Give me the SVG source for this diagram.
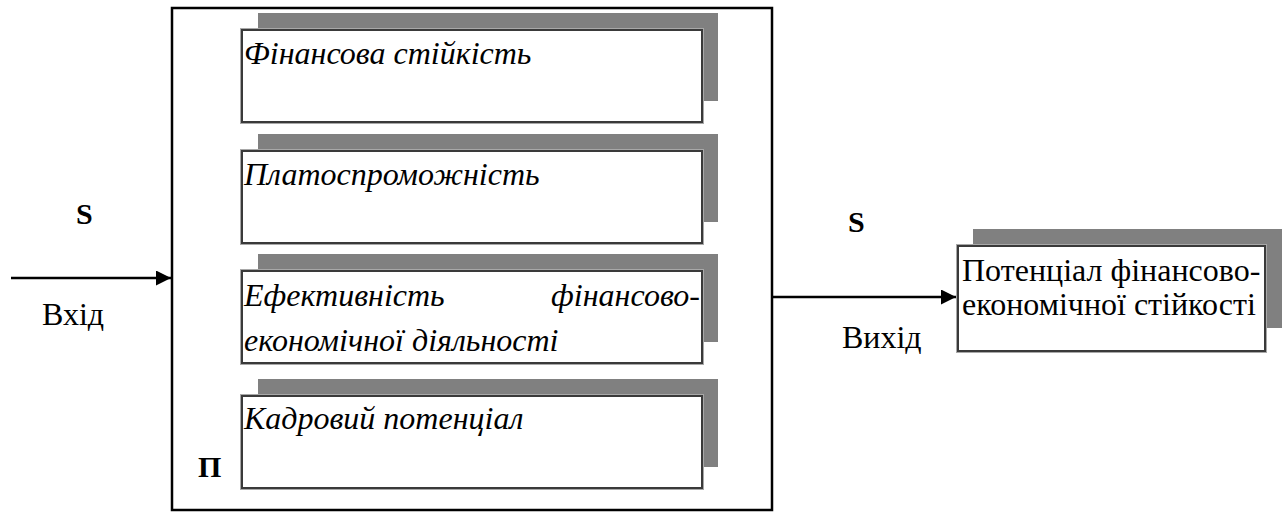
<svg xmlns="http://www.w3.org/2000/svg" width="1284" height="513" viewBox="0 0 1284 513">
<defs>
<style>
.shadow{fill:#808080;}
.halo{fill:none;stroke:#a8a8a8;stroke-width:4;}
.card{fill:#ffffff;stroke:#3a3a3a;stroke-width:2;}
.it{font-family:"Liberation Serif","Times New Roman",serif;font-style:italic;font-size:32px;fill:#000;}
.rg{font-family:"Liberation Serif","Times New Roman",serif;font-size:32px;fill:#000;}
.bd{font-family:"Liberation Serif","Times New Roman",serif;font-weight:bold;font-size:30px;fill:#000;}
.conn{stroke:#000;stroke-width:2.5;fill:none;}
</style>
<marker id="arr" viewBox="0 0 10 10" refX="10" refY="5" markerWidth="6" markerHeight="6" markerUnits="strokeWidth" orient="auto">
<path d="M0,0 L10,5 L0,10 z" fill="#000"/>
</marker>
</defs>
<rect width="1284" height="513" fill="#ffffff"/>
<g id="system">
<rect x="172" y="8" width="600" height="502" fill="none" stroke="#000" stroke-width="2.5"/>
<text class="bd" x="198" y="477">П</text>
</g>
<g id="node-1">
<rect class="shadow" x="258" y="13" width="460" height="88"/>
<rect class="halo" x="242" y="30" width="460" height="92"/>
<rect class="card" x="242" y="30" width="460" height="92"/>
<text class="it" x="244" y="64">Фінансова стійкість</text>
</g>
<g id="node-2">
<rect class="shadow" x="258" y="134" width="460" height="88"/>
<rect class="halo" x="242" y="151" width="460" height="92"/>
<rect class="card" x="242" y="151" width="460" height="92"/>
<text class="it" x="244" y="185">Платоспроможність</text>
</g>
<g id="node-3">
<rect class="shadow" x="258" y="254" width="460" height="88"/>
<rect class="halo" x="242" y="271" width="460" height="92"/>
<rect class="card" x="242" y="271" width="460" height="92"/>
<text class="it" x="244" y="306">Ефективність</text>
<text class="it" x="700" y="306" text-anchor="end">фінансово-</text>
<text class="it" x="244" y="351">економічної діяльності</text>
</g>
<g id="node-4">
<rect class="shadow" x="258" y="379" width="460" height="88"/>
<rect class="halo" x="242" y="396" width="460" height="92"/>
<rect class="card" x="242" y="396" width="460" height="92"/>
<text class="it" x="244" y="429">Кадровий потенціал</text>
</g>
<g id="node-out">
<rect class="shadow" x="973" y="229" width="309" height="99"/>
<rect class="halo" x="958" y="246" width="307" height="105"/>
<rect class="card" x="958" y="246" width="307" height="105"/>
<text class="rg" x="962" y="281">Потенціал фінансово-</text>
<text class="rg" x="962" y="315">економічної стійкості</text>
</g>
<g id="connectors">
<line class="conn" x1="11" y1="278" x2="171" y2="278" marker-end="url(#arr)"/>
<line class="conn" x1="772" y1="297" x2="956" y2="297" marker-end="url(#arr)"/>
</g>
<g id="labels">
<text class="bd" x="76" y="224">S</text>
<text class="rg" x="42" y="325">Вхід</text>
<text class="bd" x="848" y="232">S</text>
<text class="rg" x="842" y="348">Вихід</text>
</g>
</svg>
